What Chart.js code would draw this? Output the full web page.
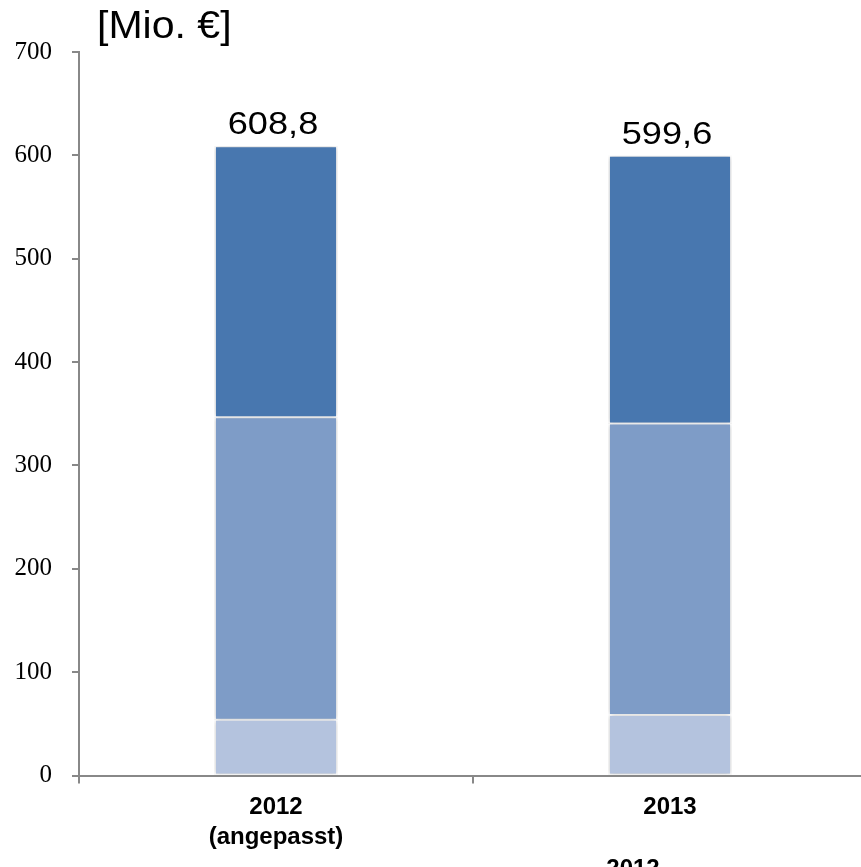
<!DOCTYPE html>
<html>
<head>
<meta charset="utf-8">
<script src="https://cdn.jsdelivr.net/npm/chart.js@4.4.1/dist/chart.umd.min.js"></script>
<style>
  html, body { margin: 0; padding: 0; background: #fff; overflow: hidden; }
  #wrap { width: 868px; height: 900px; }
</style>
</head>
<body>
<div id="wrap"><canvas id="chart" width="868" height="900"></canvas></div>
<script>
// values in Mio. €
const categories = [['2012', '(angepasst)'], '2013'];
const bottomPart = [54.0, 58.5];
const middlePart = [292.5, 282.0];
const topPart = [262.3, 259.1];
const totalLabels = ['608,8', '599,6'];
const yTicks = [0, 100, 200, 300, 400, 500, 600, 700];

const axisGrey = '#888888';

// shadow around the bars
const barShadow = {
    id: 'barShadow',
    beforeDatasetsDraw(chart) {
        const ctx = chart.ctx;
        ctx.save();
        ctx.shadowColor = 'rgba(0, 0, 0, 0.28)';
        ctx.shadowBlur = 5;
    },
    afterDatasetsDraw(chart) {
        chart.ctx.restore();
    }
};

// totals above the bars, unit label and the cut-off text at the bottom
const extraText = {
    id: 'extraText',
    afterDraw(chart) {
        const ctx = chart.ctx;
        const topMeta = chart.getDatasetMeta(2);

        ctx.save();
        ctx.fillStyle = '#000';
        ctx.textBaseline = 'alphabetic';

        ctx.font = '32px "Liberation Sans", Arial, sans-serif';
        ctx.textAlign = 'center';
        topMeta.data.forEach((bar, i) => {
            ctx.save();
            ctx.translate(bar.x - 3, bar.y - 12);
            ctx.scale(1.13, 1);
            ctx.fillText(totalLabels[i], 0, 0);
            ctx.restore();
        });

        ctx.save();
        ctx.font = '38px "Liberation Sans", Arial, sans-serif';
        ctx.textAlign = 'left';
        ctx.translate(97, 38);
        ctx.scale(1.08, 1);
        ctx.fillText('[Mio. €]', 0, 0);
        ctx.restore();

        ctx.font = 'bold 24px "Liberation Sans", Arial, sans-serif';
        ctx.textAlign = 'center';
        ctx.fillText('2012', 633, 876);
        ctx.restore();
    }
};

const segment = (label, data, color) => ({
    label: label,
    data: data,
    backgroundColor: color,
    borderColor: '#ffffff',
    borderWidth: { top: 1, bottom: 1, left: 2, right: 2 },
    borderSkipped: false,
    barPercentage: 0.315,
    categoryPercentage: 1
});

new Chart(document.getElementById('chart'), {
    type: 'bar',
    data: {
        labels: categories,
        datasets: [
            segment('Unten', bottomPart, '#B4C3DE'),
            segment('Mitte', middlePart, '#7E9CC7'),
            segment('Oben', topPart, '#4877AF')
        ]
    },
    options: {
        responsive: false,
        animation: false,
        layout: { padding: { top: 52, left: 0, right: 1, bottom: 0 } },
        plugins: {
            legend: { display: false },
            tooltip: { enabled: false }
        },
        scales: {
            x: {
                stacked: true,
                grid: {
                    offset: true,
                    drawOnChartArea: false,
                    color: axisGrey,
                    lineWidth: 2,
                    tickLength: 8
                },
                border: { display: true, color: axisGrey, width: 2 },
                ticks: {
                    color: '#000',
                    padding: 9,
                    font: { family: '"Liberation Sans", Arial, sans-serif', size: 24, weight: 'bold', lineHeight: 1.25 }
                },
                afterFit(scale) { scale.height = 124.5; }
            },
            y: {
                stacked: true,
                min: yTicks[0],
                max: yTicks[yTicks.length - 1],
                afterBuildTicks(scale) {
                    scale.ticks = yTicks.map(v => ({ value: v }));
                },
                grid: {
                    drawOnChartArea: false,
                    color: axisGrey,
                    lineWidth: 2,
                    tickLength: 7
                },
                border: { display: true, color: axisGrey, width: 2 },
                ticks: {
                    color: '#000',
                    padding: 20,
                    font: { family: '"Liberation Serif", "Times New Roman", serif', size: 25 }
                },
                afterFit(scale) { scale.width = 79; }
            }
        }
    },
    plugins: [barShadow, extraText]
});
</script>
</body>
</html>
